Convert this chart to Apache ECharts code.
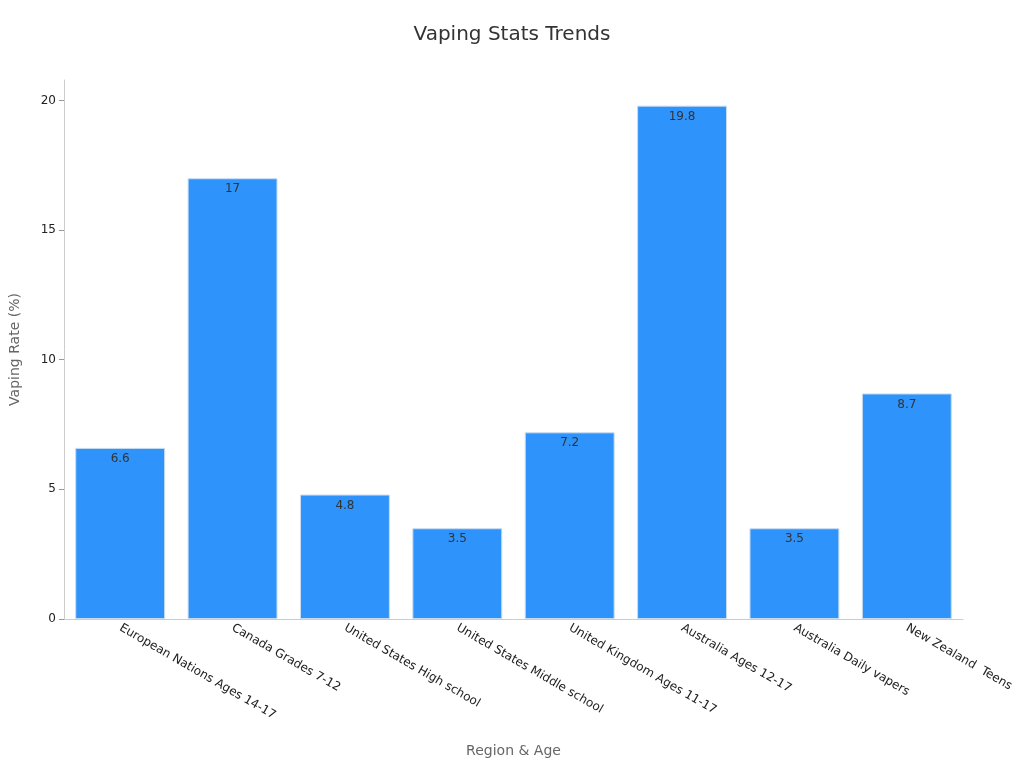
<!DOCTYPE html>
<html><head><meta charset="utf-8">
<script src="https://cdn.jsdelivr.net/npm/echarts@6/dist/echarts.min.js"></script>
<style>html,body{margin:0;padding:0;background:#fff}#c{width:1024px;height:768px}</style>
</head><body><div id="c"></div>
<script>
const categories = ["European Nations Ages 14-17","Canada Grades 7-12","United States High school","United States Middle school","United Kingdom Ages 11-17","Australia Ages 12-17","Australia Daily vapers","New Zealand  Teens"];
const values = [6.6,17,4.8,3.5,7.2,19.8,3.5,8.7];
const chart = echarts.init(document.getElementById('c'));
chart.setOption({
  backgroundColor:'#fff',
  textStyle:{fontFamily:'DejaVu Sans'},
  title:{text:'Vaping Stats Trends',left:'center',top:20,textStyle:{fontSize:20,fontWeight:'normal',color:'#333',fontFamily:'DejaVu Sans'}},
  grid:{left:60,right:61,top:80,bottom:149},
  xAxis:{type:'category',data:categories,name:'Region & Age',nameLocation:'middle',nameGap:125,
    nameTextStyle:{color:'#666',fontSize:14},
    axisLine:{lineStyle:{color:'#ccc'}},axisTick:{alignWithLabel:true,lineStyle:{color:'#999'}},
    axisLabel:{rotate:-30,color:'#222',fontSize:12,interval:0}},
  yAxis:{type:'value',min:0,max:20.79,interval:5,name:'Vaping Rate (%)',nameLocation:'middle',nameGap:42,
    nameTextStyle:{color:'#666',fontSize:14},
    axisLine:{show:true,lineStyle:{color:'#ccc'}},axisTick:{show:true,lineStyle:{color:'#999'}},
    axisLabel:{color:'#222',fontSize:12,showMaxLabel:false},splitLine:{show:false}},
  series:[{type:'bar',data:values,barWidth:'80%',
    itemStyle:{color:'#2E93FA',borderColor:'#c8dcf0',borderWidth:1},
    label:{show:true,position:'insideTop',color:'#333',fontSize:12}}]
});
</script></body></html>
